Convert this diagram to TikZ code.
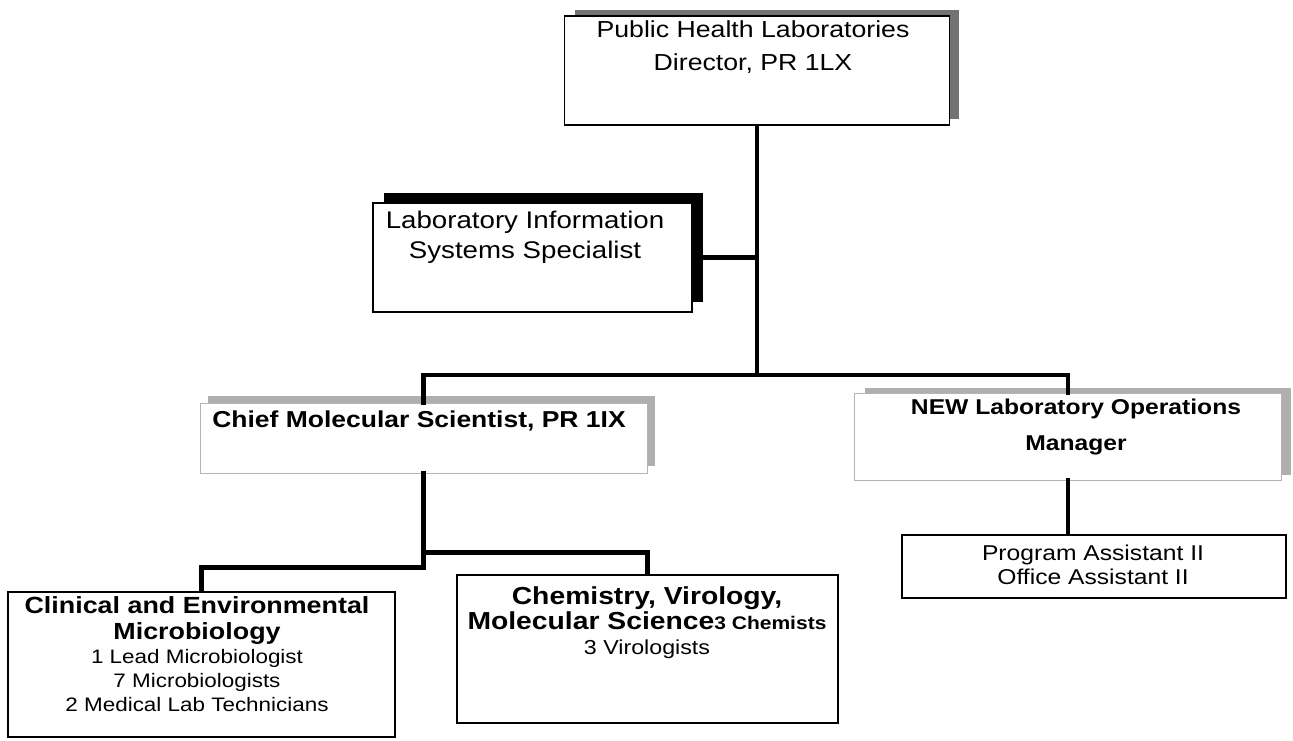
\documentclass[tikz,border=0pt]{standalone}
\usepackage{fontspec}
\setmainfont{Liberation Sans}[FakeStretch=1.15]
\usepackage{tikz}
\usetikzlibrary{positioning, shadows}
\definecolor{scangray}{RGB}{115, 115, 115}
\definecolor{palegray}{RGB}{175, 175, 175}
\definecolor{lightline}{RGB}{180, 180, 180}

\begin{document}
\begin{tikzpicture}[
    x=0.02cm, y=-0.02cm,
    box/.style={draw=black, line width=0.9pt, fill=white, inner sep=0pt},
    faintbox/.style={draw=lightline, line width=0.5pt, fill=white, inner sep=0pt},
    boxtext/.style={align=center, inner sep=0pt},
    link/.style={line width=2.4pt, line cap=rect}
]
    \useasboundingbox (0,0) rectangle (1293,740);

    \node[box, minimum width=7.70cm, minimum height=2.18cm,
          drop shadow={shadow xshift=5.7pt, shadow yshift=3.4pt, fill=scangray, opacity=1}] (dir) at (757,70.5) {};
    \node[boxtext, font=\fontsize{13.2}{18.7}\selectfont] (dirtxt) at (753,47) {Public Health Laboratories\\Director, PR 1LX};

    \node[box, minimum width=6.38cm, minimum height=2.18cm,
          drop shadow={shadow xshift=6.2pt, shadow yshift=5.7pt, fill=black, opacity=1}] (lis) at (532.5,257.5) {};
    \node[boxtext, font=\fontsize{13.7}{17}\selectfont] (listxt) at (525,237) {Laboratory Information\\Systems Specialist};

    \node[faintbox, minimum width=8.94cm, minimum height=1.40cm,
          drop shadow={shadow xshift=4.5pt, shadow yshift=4pt, fill=palegray, opacity=1}] (chief) at (423.5,438) {};
    \node[boxtext, anchor=west, font=\bfseries\fontsize{13.1}{15}\selectfont] (chieftxt) at (212,421) {Chief Molecular Scientist, PR 1IX};

    \node[faintbox, minimum width=8.54cm, minimum height=1.74cm,
          drop shadow={shadow xshift=5.7pt, shadow yshift=2.8pt, fill=palegray, opacity=1}] (newb) at (1068,436.5) {};
    \node[boxtext, font=\bfseries\fontsize{12.2}{21}\selectfont] (newtxt) at (1076,427) {NEW Laboratory Operations\\Manager};

    \node[box, minimum width=7.68cm, minimum height=1.26cm] (prog) at (1094,566.5) {};
    \node[boxtext, font=\fontsize{12.2}{14}\selectfont] (progtxt) at (1093,565) {Program Assistant II\\Office Assistant II};

    \node[box, minimum width=7.74cm, minimum height=2.90cm] (clin) at (201.5,664.5) {};
    \node[boxtext, font=\fontsize{11.1}{13.5}\selectfont] (clintxt) at (197,654)
        {{\bfseries\fontsize{13.3}{13.5}\selectfont Clinical and Environmental}\\[1.5pt]
         {\bfseries\fontsize{13.3}{13.5}\selectfont Microbiology}\\
         1 Lead Microbiologist\\7 Microbiologists\\2 Medical Lab Technicians};

    \node[box, minimum width=7.62cm, minimum height=2.96cm] (chem) at (647.5,649) {};
    \node[boxtext, font=\fontsize{11.5}{14.2}\selectfont] (chemtxt) at (647,623)
        {{\bfseries\fontsize{14}{14.2}\selectfont Chemistry, Virology,}\\
         {\bfseries\fontsize{14}{14.2}\selectfont Molecular Science{\fontsize{10.4}{14.2}\selectfont 3 Chemists}}\\
         3 Virologists};

    \coordinate (hub) at (757,375);
    \draw[link] (dir.south) -- (hub);
    \draw[link] (lis.east) -- (lis.east -| hub);
    \draw[link] (chief.north) |- (hub) -| (newb.north);
    \draw[link] (chief.south) -- ++(0,94) -| (clin.north);
    \draw[link] (chief.south) ++(0,79) -| (chem.north);
    \draw[link] (newb.south) -- (newb.south |- prog.north);
\end{tikzpicture}
\end{document}
